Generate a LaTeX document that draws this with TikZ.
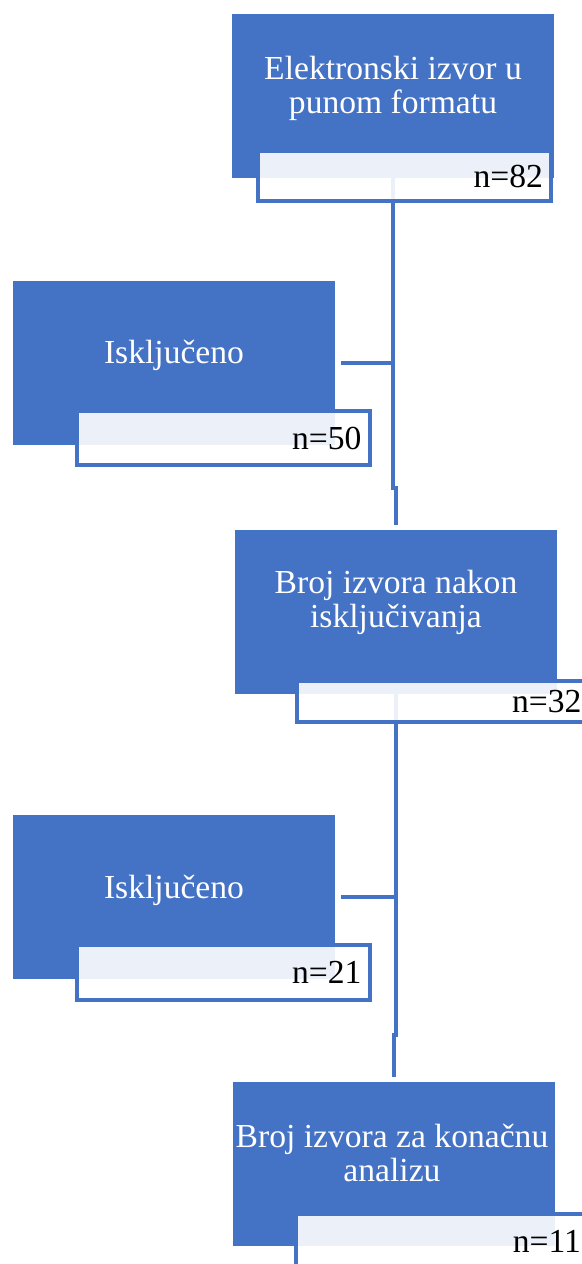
\documentclass[tikz,border=0pt]{standalone}
\usepackage{fontspec}
\setmainfont{Liberation Serif}
\definecolor{blok}{HTML}{4472C4}

\tikzset{
  plavi/.style={fill=blok, minimum width=161pt, minimum height=82pt, inner sep=0pt},
  tekst/.style={text=white, align=center, inner sep=0pt, font=\fontsize{16.8}{17}\selectfont},
  broj/.style={draw=blok, line width=2pt, fill=white, fill opacity=0.9, text opacity=1,
    text width=138.5pt, align=right, inner xsep=4pt, inner ysep=0pt, minimum height=#1,
    font=\fontsize{16.8}{17}\selectfont},
  veza/.style={draw=blok, line width=2pt},
}

\begin{document}
\begin{tikzpicture}[x=0.5pt, y=-0.5pt]
\useasboundingbox (0,0) rectangle (582,1264);
\clip (0,0) rectangle (582,1264);

% plavi blokovi
\node[plavi] (b1) at (393,95.5) {};
\node[plavi] (b2) at (173.5,363) {};
\node[plavi] (b3) at (396,612) {};
\node[plavi] (b4) at (173.5,897) {};
\node[plavi] (b5) at (393.5,1164) {};

\node[tekst] (t1) at (393,88) {Elektronski izvor u\\punom formatu};
\node[tekst] (t2) at (174,355) {Isključeno};
\node[tekst] (t3) at (396,602) {Broj izvora nakon\\isključivanja};
\node[tekst] (t4) at (174,890) {Isključeno};
\node[tekst] (t5) at (392,1153) {Broj izvora za konačnu\\analizu};

% veze
\coordinate (j1) at (396,488);
\coordinate (j2) at (393.5,1035);
\draw[veza, shorten >=2.5pt] (b1.south) |- (j1) -- (b3.north);
\draw[veza, shorten >=2.5pt] (b3.south) |- (j2) -- (b5.north);
\draw[veza] ([xshift=3pt]b2.east) -- (b2.east -| b1.south);
\draw[veza] ([xshift=3pt]b4.east) -- (b4.east -| b3.south);

% bijeli okviri s brojem
\node[broj=25pt] (n1) at (404.5,176) {n=82};
\node[broj=27pt] (n2) at (223,438) {n=50};
\node[broj=20.5pt] (n3) at (443,701.5) {n=32};
\node[broj=27.5pt] (n4) at (223,972.5) {n=21};
\node[broj=28pt] (n5) at (442.5,1241.5) {n=11};

\end{tikzpicture}
\end{document}
